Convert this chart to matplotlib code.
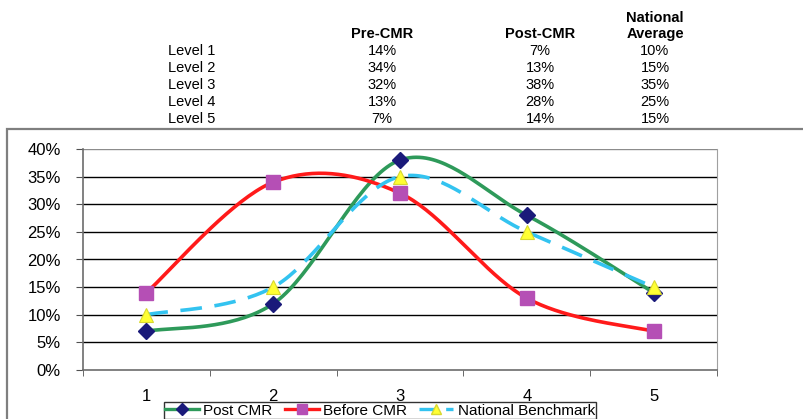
import numpy as np
import matplotlib
matplotlib.use("Agg")
import matplotlib.pyplot as plt
from matplotlib.patches import Rectangle
from matplotlib.lines import Line2D

# ---- data ----
levels = [1, 2, 3, 4, 5]
row_labels = ["Level 1", "Level 2", "Level 3", "Level 4", "Level 5"]
pre_cmr_table = ["14%", "34%", "32%", "13%", "7%"]
post_cmr_table = ["7%", "13%", "38%", "28%", "14%"]
national_table = ["10%", "15%", "35%", "25%", "15%"]

post_cmr = [7, 12, 38, 28, 14]
before_cmr = [14, 34, 32, 13, 7]
national = [10, 15, 35, 25, 15]
y_ticks = [0, 5, 10, 15, 20, 25, 30, 35, 40]

W, H = 804, 419
fig = plt.figure(figsize=(W / 100, H / 100), dpi=100)
plt.rcParams['font.family'] = ['Liberation Sans', 'DejaVu Sans']
narrow = ['Liberation Sans Narrow', 'Liberation Sans', 'DejaVu Sans']


def fx(px):
    return px / W


def fy(py):
    return 1 - py / H


# ---- table ----
tfs = 10.5
fig.text(fx(382), fy(34), "Pre-CMR", ha='center', va='center', fontsize=tfs, weight='bold', family=narrow)
fig.text(fx(540), fy(34), "Post-CMR", ha='center', va='center', fontsize=tfs, weight='bold', family=narrow)
fig.text(fx(655), fy(18), "National", ha='center', va='center', fontsize=tfs, weight='bold', family=narrow)
fig.text(fx(655), fy(34), "Average", ha='center', va='center', fontsize=tfs, weight='bold', family=narrow)
row_y = [51, 68, 85, 102, 119]
for lab, a, b, c, yy in zip(row_labels, pre_cmr_table, post_cmr_table, national_table, row_y):
    fig.text(fx(168), fy(yy), lab, ha='left', va='center', fontsize=tfs, family=narrow)
    fig.text(fx(382), fy(yy), a, ha='center', va='center', fontsize=tfs, family=narrow)
    fig.text(fx(540), fy(yy), b, ha='center', va='center', fontsize=tfs, family=narrow)
    fig.text(fx(655), fy(yy), c, ha='center', va='center', fontsize=tfs, family=narrow)

# ---- outer chart border ----
fig.patches.append(Rectangle((fx(7), fy(430)), fx(810) - fx(7), fy(129) - fy(430),
                             transform=fig.transFigure, fill=False, edgecolor='#7f7f7f',
                             linewidth=1.6, clip_on=False))

# ---- axes ----
ax = fig.add_axes([fx(83), fy(370), fx(717) - fx(83), fy(149) - fy(370)])
ax.set_xlim(0.5, 5.5)
ax.set_ylim(0, 40)


def smooth(xs, ys, n=40):
    # Excel-style smoothed line (cubic Bezier with Catmull-Rom control points)
    xs = np.asarray(xs, float)
    ys = np.asarray(ys, float)
    P = np.column_stack([xs, ys])
    out = []
    for i in range(len(P) - 1):
        p0 = P[i - 1] if i > 0 else P[i]
        p1 = P[i]
        p2 = P[i + 1]
        p3 = P[i + 2] if i + 2 < len(P) else P[i + 1]
        c1 = p1 + (p2 - p0) / 6
        c2 = p2 - (p3 - p1) / 6
        t = np.linspace(0, 1, n)[:, None]
        seg = ((1 - t) ** 3) * p1 + 3 * ((1 - t) ** 2) * t * c1 + 3 * (1 - t) * t ** 2 * c2 + t ** 3 * p2
        out.append(seg if i == 0 else seg[1:])
    s = np.vstack(out)
    return s[:, 0], s[:, 1]


green = '#2e9a5a'
navy = '#1a1a7a'
red = '#ff1a1a'
mag = '#b54fb5'
blue = '#33c3f0'
yellow = '#ffff33'

sx, sy = smooth(levels, post_cmr)
ax.plot(sx, sy, color=green, lw=2.6, zorder=3, solid_capstyle='round')
sx, sy = smooth(levels, before_cmr)
ax.plot(sx, sy, color=red, lw=2.6, zorder=3, solid_capstyle='round')
sx, sy = smooth(levels, national)
ax.plot(sx, sy, color=blue, lw=2.6, zorder=3, dashes=(6, 3.5))

ax.plot(levels, post_cmr, ls='none', marker='D', ms=8, color=navy, mec=navy, zorder=5)
ax.plot(levels, before_cmr, ls='none', marker='s', ms=10, color=mag, mec=mag, zorder=5)
ax.plot(levels, national, ls='none', marker='^', ms=10, color=yellow, mec='#d8d830', mew=0.8, zorder=6)

ax.set_yticks(y_ticks)
ax.set_yticklabels([f"{v}%" for v in y_ticks], fontsize=12)
ax.set_xticks(levels)
ax.set_xticklabels([str(v) for v in levels], fontsize=12)
ax.set_xticks([1.5, 2.5, 3.5, 4.5, 5.5, 0.5], minor=True)
ax.tick_params(axis='x', which='major', length=0, pad=14)
ax.tick_params(axis='x', which='minor', length=4, color='#505050', direction='out')
ax.tick_params(axis='y', length=5, color='#505050', direction='out', pad=11)
for v in y_ticks[1:]:
    ax.axhline(v, color='#000000' if v < 40 else '#8c8c8c', lw=1.0, zorder=1)
ax.spines['top'].set_visible(False)
ax.spines['right'].set_color('#a0a0a0')
ax.spines['left'].set_color('#6c6c6c')
ax.spines['bottom'].set_color('#6c6c6c')
ax.spines['left'].set_linewidth(1.2)
ax.spines['bottom'].set_linewidth(1.2)

# ---- legend ----
handles = [
    Line2D([], [], color=green, lw=2.4, marker='D', ms=6, mfc=navy, mec=navy),
    Line2D([], [], color=red, lw=2.4, marker='s', ms=7, mfc=mag, mec=mag),
    Line2D([], [], color=blue, lw=2.4, dashes=(5, 3), marker='^', ms=7, mfc=yellow, mec='#d8d830'),
]
leg = fig.legend(handles, ["Post CMR", "Before CMR", "National Benchmark"], ncol=3,
                 loc='upper center', bbox_to_anchor=(fx(380), fy(402)), fontsize=11,
                 frameon=True, fancybox=False, edgecolor='black', handlelength=2.2,
                 handletextpad=0.3, columnspacing=0.8, borderpad=0.1, borderaxespad=0)
leg.get_frame().set_linewidth(1.0)

fig.savefig("out.png", dpi=100)
